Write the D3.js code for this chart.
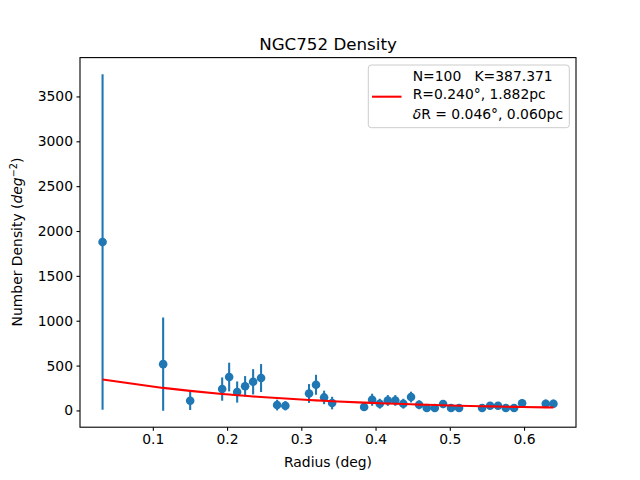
<!DOCTYPE html>
<html><head><meta charset="utf-8">
<script src="https://cdn.jsdelivr.net/npm/d3@7/dist/d3.min.js"></script>
<style>body{margin:0;background:#fff}svg{font-family:"DejaVu Sans",sans-serif}text{white-space:pre}</style>
</head><body>
<script>
const radius = [0.0323,0.1139,0.1503,0.1934,0.2028,0.2136,0.2243,0.2351,0.2458,0.2674,0.2785,0.3104,0.3198,0.3307,0.3415,0.3846,0.3954,0.4057,0.4165,0.4266,0.4374,0.4478,0.4587,0.4690,0.4798,0.4910,0.5017,0.5125,0.5435,0.5543,0.5650,0.5755,0.5866,0.5974,0.6293,0.6396];
const density = [1877,516,108,238,372,205,269,319,361,60,52,189,286,145,82,38,119,75,111,111,75,149,63,27,27,71,27,27,27,52,52,27,27,80,75,75];
const errors = [1870,520,103,130,160,118,114,141,156,60,52,105,111,75,70,38,67,55,60,60,55,60,50,27,27,45,27,27,27,40,40,27,27,45,45,45];
const fitValues = [345,251,218,184,177,170,163,156,150,138,132,117,112,108,103,87,84,80,77,74,71,68,65,63,60,58,55,53,47,45,43,41,40,38,34,32];
const xTicks = [0.1,0.2,0.3,0.4,0.5,0.6];
const yTicks = [0,500,1000,1500,2000,2500,3000,3500];
const legendLines = ["N=100   K=387.371","R=0.240°, 1.882pc","δR = 0.046°, 0.060pc"];

const W=640,H=480,L=80,R=576,T=57.6,B=427.2;
const svg=d3.select("body").append("svg").attr("width",W).attr("height",H);
const x=d3.scaleLinear().domain([0.0019,0.670]).range([L,R]);
const y=d3.scaleLinear().domain([-187,3933]).range([B,T]);
const blue="#1f77b4";

const g=svg.append("g");
g.selectAll("line.err").data(radius).enter().append("line")
 .attr("x1",(d)=>x(d)).attr("x2",(d)=>x(d))
 .attr("y1",(d,i)=>y(density[i]-errors[i])).attr("y2",(d,i)=>y(density[i]+errors[i]))
 .attr("stroke",blue).attr("stroke-width",2.08);
g.selectAll("circle").data(radius).enter().append("circle")
 .attr("cx",(d)=>x(d)).attr("cy",(d,i)=>y(density[i])).attr("r",4.3).attr("fill",blue);
g.append("path").datum(radius).attr("fill","none").attr("stroke","red").attr("stroke-width",2.08)
 .attr("d",d3.line().x(d=>x(d)).y((d,i)=>y(fitValues[i])));

const xa=svg.append("g").attr("transform",`translate(0,${B})`).call(d3.axisBottom(x).tickValues(xTicks).tickSize(3.5).tickPadding(3.5).tickFormat(d3.format(".1f")));
const ya=svg.append("g").attr("transform",`translate(${L},0)`).call(d3.axisLeft(y).tickValues(yTicks).tickSize(3.5).tickPadding(3.5).tickFormat(d3.format("d")));
[xa,ya].forEach(a=>{a.select(".domain").remove();a.selectAll("line").attr("stroke","#000").attr("stroke-width",1.1);
 a.selectAll("text").attr("font-size",13.9).attr("fill","#000").attr("font-family","DejaVu Sans");});
svg.append("rect").attr("x",L).attr("y",T).attr("width",R-L).attr("height",B-T).attr("fill","none").attr("stroke","#000").attr("stroke-width",1.1);

svg.append("text").attr("x",(L+R)/2).attr("y",50).attr("text-anchor","middle").attr("font-size",16.7).text("NGC752 Density");
svg.append("text").attr("x",(L+R)/2).attr("y",467).attr("text-anchor","middle").attr("font-size",13.9).text("Radius (deg)");
const yl=svg.append("text").attr("transform","translate(22,242) rotate(-90)").attr("text-anchor","middle").attr("font-size",13.9);
yl.append("tspan").text("Number Density (");
yl.append("tspan").attr("font-style","italic").text("deg");
yl.append("tspan").attr("font-size",9.7).attr("dy",-5).text("−2");
yl.append("tspan").attr("dy",5).text(")");

const lg=svg.append("g");
lg.append("rect").attr("x",368.3).attr("y",65).attr("width",201).attr("height",62.7).attr("rx",3)
 .attr("fill","#fff").attr("fill-opacity",0.8).attr("stroke","#ccc").attr("stroke-width",1);
lg.append("line").attr("x1",372).attr("x2",401.5).attr("y1",96.7).attr("y2",96.7).attr("stroke","red").attr("stroke-width",2.08);
const ly=[81,98.5,118.5];
legendLines.forEach((t,i)=>{
 const tx=lg.append("text").attr("x",412.7).attr("y",ly[i]).attr("font-size",13.9).attr("xml:space","preserve");
 if(t.startsWith("δ")){tx.append("tspan").attr("font-style","italic").text("δ");tx.append("tspan").text(t.slice(1));}
 else tx.text(t);
});
</script>
</body></html>
